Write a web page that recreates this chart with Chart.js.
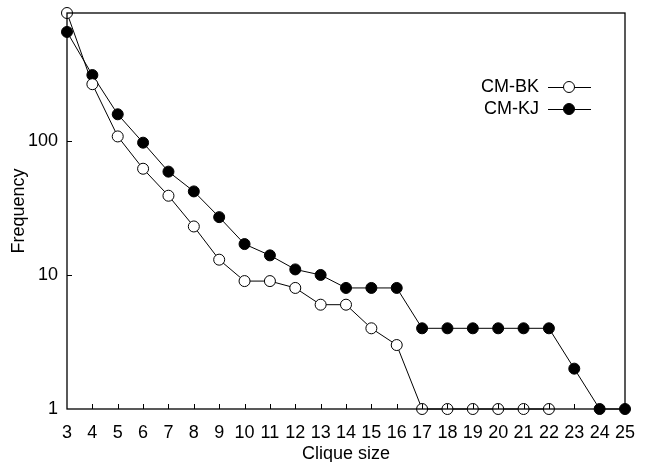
<!DOCTYPE html>
<html>
<head>
<meta charset="utf-8">
<script src="https://cdn.jsdelivr.net/npm/chart.js@4"></script>
<style>
  body { margin: 0; background: #fff; }
  #wrap { width: 653px; height: 462px; }
</style>
</head>
<body>
<div id="wrap"><canvas id="myChart"></canvas></div>
<script>
const cliqueSizes = [3, 4, 5, 6, 7, 8, 9, 10, 11, 12, 13, 14, 15, 16, 17, 18, 19, 20, 21, 22, 23, 24, 25];
const cmBK = [900, 265, 108, 62, 39, 23, 13, 9, 9, 8, 6, 6, 4, 3, 1, 1, 1, 1, 1, 1, null, null, null];
const cmKJ = [650, 310, 158, 97, 59, 42, 27, 17, 14, 11, 10, 8, 8, 8, 4, 4, 4, 4, 4, 4, 2, 1, 1];
const yTicks = [1, 10, 100];

const font = { family: "'Liberation Sans', Arial, sans-serif", size: 18 };

// frame, inward tick marks and the legend (text left of the marker)
const framePlugin = {
  id: 'frame',
  afterDatasetsDraw(chart) {
    const ctx = chart.ctx;
    const a = chart.chartArea;
    const xs = chart.scales.x;
    const ys = chart.scales.y;
    ctx.save();
    ctx.strokeStyle = '#000';
    ctx.lineWidth = 1.3;
    ctx.strokeRect(a.left, a.top, a.right - a.left, a.bottom - a.top);
    ctx.lineWidth = 1;
    ctx.beginPath();
    for (let i = 1; i < cliqueSizes.length - 1; i++) {
      const px = Math.round(xs.getPixelForValue(i)) + 0.5;
      ctx.moveTo(px, a.bottom);
      ctx.lineTo(px, a.bottom - 5);
    }
    yTicks.slice(1).forEach(v => {
      const py = Math.round(ys.getPixelForValue(v)) + 0.5;
      ctx.moveTo(a.left, py);
      ctx.lineTo(a.left + 5, py);
    });
    ctx.stroke();

    // legend
    const rows = [
      { label: 'CM-BK', y: 87, fill: '#fff' },
      { label: 'CM-KJ', y: 109, fill: '#000' }
    ];
    ctx.font = font.size + 'px ' + font.family;
    ctx.textAlign = 'right';
    ctx.textBaseline = 'middle';
    rows.forEach(r => {
      ctx.fillStyle = '#000';
      ctx.fillText(r.label, 539, r.y);
      ctx.beginPath();
      ctx.moveTo(548, r.y + 0.5);
      ctx.lineTo(591, r.y + 0.5);
      ctx.stroke();
      ctx.beginPath();
      ctx.arc(569, r.y, 5.5, 0, Math.PI * 2);
      ctx.fillStyle = r.fill;
      ctx.fill();
      ctx.stroke();
    });
    ctx.restore();
  }
};

new Chart('myChart', {
  type: 'line',
  data: {
    labels: cliqueSizes,
    datasets: [{
      label: 'CM-BK',
      data: cmBK,
      borderColor: '#000',
      borderWidth: 1,
      pointRadius: 5.5,
      pointBackgroundColor: '#fff',
      pointBorderColor: '#000',
      pointBorderWidth: 1,
      spanGaps: false,
      clip: false
    }, {
      label: 'CM-KJ',
      data: cmKJ,
      borderColor: '#000',
      borderWidth: 1,
      pointRadius: 5.5,
      pointBackgroundColor: '#000',
      pointBorderColor: '#000',
      pointBorderWidth: 1,
      clip: false
    }]
  },
  options: {
    responsive: true,
    maintainAspectRatio: false,
    animation: false,
    layout: { padding: { top: 13, right: 28, left: 0, bottom: 0 } },
    plugins: {
      legend: { display: false },
      tooltip: { enabled: false }
    },
    scales: {
      x: {
        type: 'category',
        offset: false,
        grid: { display: false, drawTicks: false },
        border: { display: false },
        ticks: { color: '#000', font: font, padding: 13, maxRotation: 0, autoSkip: false },
        title: { display: true, text: 'Clique size', color: '#000', font: font, padding: { top: 0, bottom: -3 } },
        afterFit: s => { s.height = 53; s.paddingLeft = 0; s.paddingRight = 0; }
      },
      y: {
        type: 'logarithmic',
        min: 1,
        max: 900,
        grid: { display: false, drawTicks: false },
        border: { display: false },
        afterBuildTicks: s => { s.ticks = yTicks.map(v => ({ value: v })); },
        ticks: { color: '#000', font: font, padding: 9, callback: v => String(v) },
        title: { display: true, text: 'Frequency', color: '#000', font: font, padding: { top: 8, bottom: 0 } },
        afterFit: s => { s.width = 67; s.paddingTop = 0; s.paddingBottom = 0; }
      }
    }
  },
  plugins: [framePlugin]
});
</script>
</body>
</html>
